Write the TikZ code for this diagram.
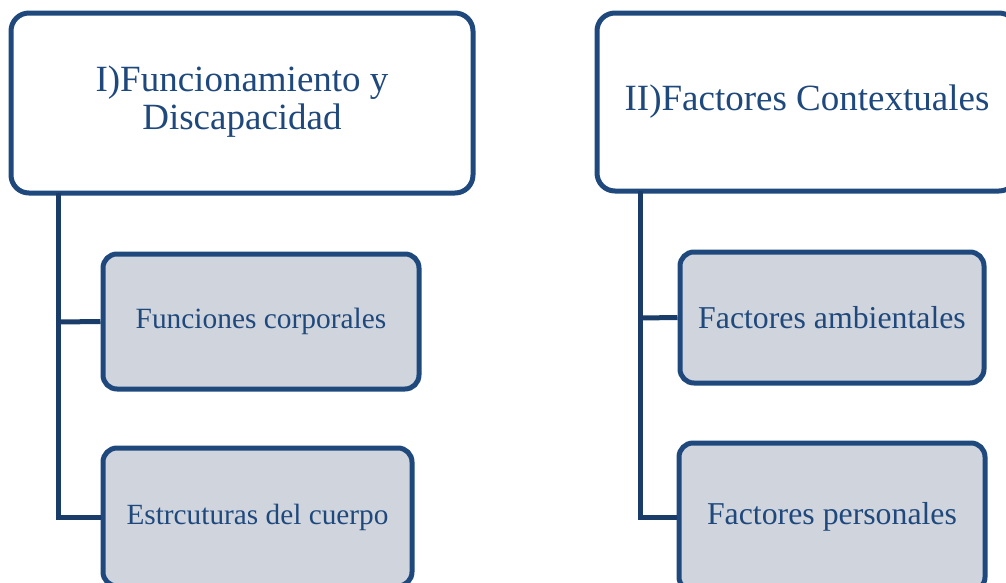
\documentclass[tikz,border=0pt]{standalone}
\usepackage{fontspec}
\setmainfont{Liberation Serif}
\definecolor{bord}{HTML}{1F497D}
\definecolor{conn}{HTML}{1A3C68}
\definecolor{fillc}{HTML}{D0D4DD}
\tikzset{
  topbox/.style={draw=bord, line width=5pt, rounded corners=18pt, fill=white, text=bord, align=center, inner sep=0pt},
  subbox/.style={draw=bord, line width=5pt, rounded corners=14pt, fill=fillc, text=bord, align=center, inner sep=0pt},
  connline/.style={draw=conn, line width=5pt}
}
\begin{document}
\begin{tikzpicture}[x=1pt,y=-1pt]
\useasboundingbox (0,0) rectangle (1006,582);
\clip (0,0) rectangle (1006,582);
\coordinate (la) at (58,193);
\coordinate (lb) at (58,322);
\coordinate (lc) at (58,517);
\coordinate (ra) at (640,191);
\coordinate (rb) at (640,318);
\coordinate (rc) at (640,517);
\node[topbox, minimum width=462pt, minimum height=180pt, font=\fontsize{37}{38}\selectfont] (A) at (242,103) {\raisebox{-4pt}{\begin{tabular}{@{}c@{}}I)Funcionamiento y\\Discapacidad\end{tabular}}};
\node[topbox, minimum width=420pt, minimum height=178pt, font=\fontsize{37}{38}\selectfont] (B) at (807,102) {\raisebox{-3pt}{II)Factores Contextuales}};
\node[subbox, minimum width=316pt, minimum height=135pt, font=\fontsize{29.4}{30}\selectfont] (L1) at (261,321.5) {\raisebox{-3pt}{Funciones corporales}};
\node[subbox, minimum width=309pt, minimum height=138pt, font=\fontsize{29.3}{30}\selectfont] (L2) at (257.5,517) {\raisebox{-2pt}{Estrcuturas del cuerpo}};
\node[subbox, minimum width=304pt, minimum height=131pt, font=\fontsize{31.8}{32}\selectfont] (R1) at (832,317.5) {\raisebox{-2pt}{Factores ambientales}};
\node[subbox, minimum width=306pt, minimum height=148pt, font=\fontsize{31.8}{32}\selectfont] (R2) at (832,517) {\raisebox{-2pt}{Factores personales}};
\draw[connline, line join=miter] (la) -- (lc) -- (L2.west);
\draw[connline] (lb) -- (L1.west);
\draw[connline, line join=miter] (ra) -- (rc) -- (R2.west);
\draw[connline] (rb) -- (R1.west);
\end{tikzpicture}
\end{document}
